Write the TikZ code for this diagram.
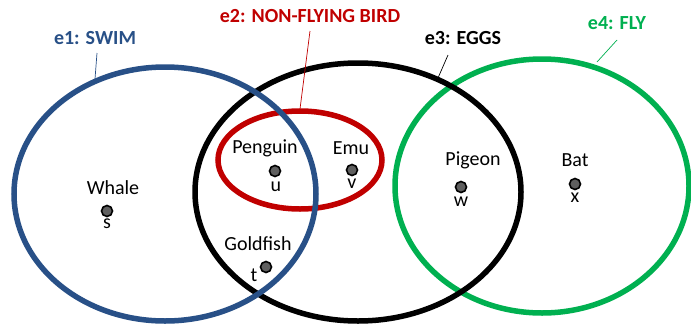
\documentclass[tikz,border=0pt]{standalone}
\usepackage{fontspec}
\setmainfont{Carlito}
\definecolor{eblue}{RGB}{40,80,135}
\definecolor{ered}{RGB}{192,0,0}
\definecolor{egreen}{RGB}{0,176,80}
\definecolor{dotgray}{RGB}{95,95,95}
\begin{document}
\begin{tikzpicture}[x=1pt,y=-1pt,
  ring/.style={line width=5.5pt},
  leader/.style={line width=0.7pt},
  title/.style={font=\fontsize{20}{24}\selectfont\bfseries, inner sep=0pt},
  lbl/.style={font=\fontsize{20}{24}\selectfont, inner sep=0pt},
  pt/.style={circle, fill=dotgray, draw=black, line width=1.6pt, minimum size=11pt, inner sep=0pt}]
\useasboundingbox (0,0) rectangle (691,327);
% ellipses
\draw[ring, egreen] (542,186) ellipse [x radius=147, y radius=127];
\draw[ring, black] (358,192) ellipse [x radius=163, y radius=129];
\draw[ring, ered] (300,160) ellipse [x radius=82, y radius=49];
\draw[ring, eblue] (165,194) ellipse [x radius=151, y radius=127];
% titles
\node[title, text=eblue] (t1) at (95,38) {e1: SWIM};
\node[title, text=ered] (t2) at (310,16) {e2: NON-FLYING BIRD};
\node[title, text=black] (t3) at (463,38) {e3: EGGS};
\node[title, text=egreen] (t4) at (617,23) {e4: FLY};
\coordinate (c1) at (95,79);
\coordinate (c2) at (300,109);
\coordinate (c3) at (438,78);
\coordinate (c4) at (597,62);
\draw[leader, eblue] (97,53) -- (c1);
\draw[leader, ered] (310,31) -- (c2);
\draw[leader, black] (448,55) -- (c3);
\draw[leader, egreen] (617,40) -- (c4);
% elements
\node[lbl] (whale) at (113,188) {Whale};
\node[pt] (ps) at (107,211) {};
\node[lbl] (ls) at (107,224) {s};
\node[lbl] (penguin) at (265,148) {Penguin};
\node[pt] (pu) at (275,171) {};
\node[lbl] (lu) at (276,187) {u};
\node[lbl] (emu) at (351,148) {Emu};
\node[pt] (pv) at (352,170) {};
\node[lbl] (lv) at (352,184) {v};
\node[lbl] (pigeon) at (473,160) {Pigeon};
\node[pt] (pw) at (461,187) {};
\node[lbl] (lw) at (461,202) {w};
\node[lbl] (bat) at (575,160) {Bat};
\node[pt] (px) at (575,184) {};
\node[lbl] (lx) at (575,198) {x};
\node[lbl] (goldfish) at (258,244) {Goldfish};
\node[pt] (pt) at (266,267) {};
\node[lbl] (lt) at (254,275) {t};
\end{tikzpicture}
\end{document}
